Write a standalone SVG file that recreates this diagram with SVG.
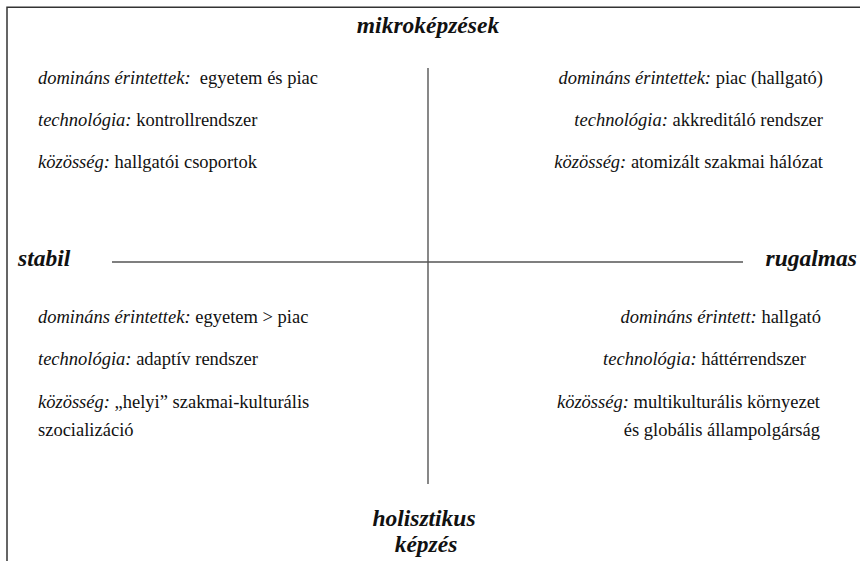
<svg xmlns="http://www.w3.org/2000/svg" width="860" height="561" viewBox="0 0 860 561">
<style>
.t{font-family:"Liberation Serif","DejaVu Serif",serif;font-size:18.5px;fill:#111}
.i{font-style:italic}
.h{font-family:"Liberation Serif","DejaVu Serif",serif;font-size:23.5px;font-style:italic;font-weight:bold;fill:#111}
.r{text-anchor:end}
.c{text-anchor:middle}
.ax{stroke:#555;stroke-width:1.4;fill:none}
.fr{stroke:#333;stroke-width:1.5;fill:none}
</style>
<rect width="860" height="561" fill="#fff"/>
<g id="frame"><path class="fr" d="M7,561 V7.3 H860"/></g>
<g id="connectors">
<line class="ax" x1="112" y1="262" x2="743" y2="262"/>
<line class="ax" x1="428" y1="68" x2="428" y2="484"/>
</g>
<g id="top-label"><text class="h c" x="428" y="33">mikroképzések</text></g>
<g id="bottom-label"><text class="h c" x="424" y="526">holisztikus</text><text class="h c" x="426" y="552">képzés</text></g>
<g id="left-label"><text class="h" x="18" y="266">stabil</text></g>
<g id="right-label"><text class="h r" x="857" y="266">rugalmas</text></g>
<g id="q-top-left">
<text class="t" x="38" y="84"><tspan class="i">domináns érintettek:</tspan>&#160; egyetem és piac</text>
<text class="t" x="38" y="126"><tspan class="i">technológia:</tspan> kontrollrendszer</text>
<text class="t" x="38" y="168"><tspan class="i">közösség:</tspan> hallgatói csoportok</text>
</g>
<g id="q-top-right">
<text class="t r" x="823" y="84"><tspan class="i">domináns érintettek:</tspan> piac (hallgató)</text>
<text class="t r" x="823" y="126"><tspan class="i">technológia:</tspan> akkreditáló rendszer</text>
<text class="t r" x="823" y="168"><tspan class="i">közösség:</tspan> atomizált szakmai hálózat</text>
</g>
<g id="q-bottom-left">
<text class="t" x="38" y="323"><tspan class="i">domináns érintettek:</tspan> egyetem &gt; piac</text>
<text class="t" x="38" y="365"><tspan class="i">technológia:</tspan> adaptív rendszer</text>
<text class="t" x="38" y="408"><tspan class="i">közösség:</tspan> „helyi” szakmai-kulturális</text>
<text class="t" x="38" y="436">szocializáció</text>
</g>
<g id="q-bottom-right">
<text class="t r" x="821" y="323"><tspan class="i">domináns érintett:</tspan> hallgató</text>
<text class="t r" x="806" y="365"><tspan class="i">technológia:</tspan> háttérrendszer</text>
<text class="t r" x="820" y="408"><tspan class="i">közösség:</tspan> multikulturális környezet</text>
<text class="t r" x="820" y="436">és globális állampolgárság</text>
</g>
</svg>
